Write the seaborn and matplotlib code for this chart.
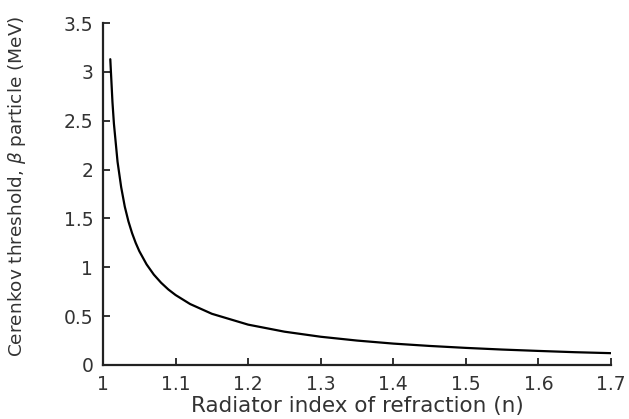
import matplotlib
matplotlib.use("Agg")
import matplotlib.pyplot as plt
import seaborn as sns
import pandas as pd

refractive_index = [1.01, 1.013, 1.015, 1.02, 1.025, 1.03, 1.035, 1.04, 1.045, 1.05,
                    1.06, 1.07, 1.08, 1.09, 1.1, 1.12, 1.15, 1.2, 1.25, 1.3,
                    1.35, 1.4, 1.45, 1.5, 1.55, 1.6, 1.65, 1.7]
threshold_mev = [3.13, 2.69, 2.47, 2.08, 1.82, 1.62, 1.47, 1.35, 1.25, 1.165,
                 1.03, 0.925, 0.842, 0.773, 0.716, 0.624, 0.524, 0.413, 0.341, 0.289,
                 0.250, 0.219, 0.195, 0.175, 0.158, 0.144, 0.131, 0.121]
x_ticks = [1, 1.1, 1.2, 1.3, 1.4, 1.5, 1.6, 1.7]
x_tick_labels = ["1", "1.1", "1.2", "1.3", "1.4", "1.5", "1.6", "1.7"]
y_ticks = [0, 0.5, 1, 1.5, 2, 2.5, 3, 3.5]
y_tick_labels = ["0", "0.5", "1", "1.5", "2", "2.5", "3", "3.5"]

df = pd.DataFrame({"n": refractive_index, "T": threshold_mev})

sns.set_theme(style="ticks")
plt.rcParams["font.family"] = ["DejaVu Sans"]
plt.rcParams["mathtext.fontset"] = "dejavusans"

fig = plt.figure(figsize=(6.29, 4.19), dpi=100)
ax = fig.add_axes([0.1638, 0.1289, 0.9714 - 0.1638, 0.945 - 0.1289])

sns.lineplot(data=df, x="n", y="T", ax=ax, color="black", linewidth=1.6)

ax.set_xlim(1, 1.7)
ax.set_ylim(0, 3.5)
ax.set_xticks(x_ticks)
ax.set_xticklabels(x_tick_labels)
ax.set_yticks(y_ticks)
ax.set_yticklabels(y_tick_labels)
sns.despine(ax=ax)
for s in ["left", "bottom"]:
    ax.spines[s].set_linewidth(1.6)
    ax.spines[s].set_color("#222222")
ax.tick_params(direction="in", length=5, width=1.3, colors="#222222",
               labelsize=13.5, labelcolor="#333333", pad=7)

ax.set_xlabel("Radiator index of refraction (n)", fontsize=15.5, color="#333333", labelpad=2)
ax.set_ylabel(r"Cerenkov threshold, $\beta$ particle (MeV)", fontsize=13.3,
              color="#333333")
ax.yaxis.set_label_coords(-0.148, 0.523)

fig.savefig("out.png", dpi=100)
